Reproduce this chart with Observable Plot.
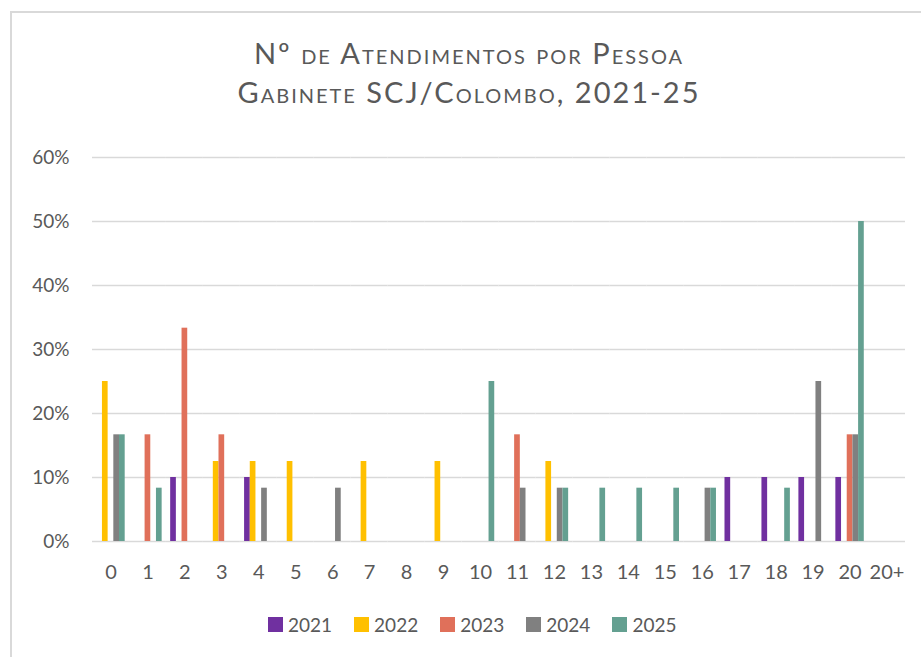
<!DOCTYPE html>
<html>
<head>
<meta charset="utf-8">
<script src="https://cdn.jsdelivr.net/npm/d3@7"></script>
<script src="https://cdn.jsdelivr.net/npm/@observablehq/plot@0.6"></script>
<style>
  html, body { margin: 0; padding: 0; background: #fff; width: 921px; height: 657px; overflow: hidden; }
  #frame { position: absolute; left: 10px; top: 11px; width: 1000px; height: 700px;
           border-left: 2px solid #d9d9d9; border-top: 2px solid #d9d9d9; }
  #title { position: absolute; left: 17px; width: 904px; top: 34px; text-align: center;
           font-family: Lato, sans-serif; font-variant: small-caps; font-size: 29px; line-height: 38.5px;
           letter-spacing: 2px; color: #595959; }
  #chart { position: absolute; left: 0; top: 0; }
  #legend { position: absolute; left: 268px; top: 608px; }
  #legend > div { font-family: Lato, sans-serif !important; font-size: 19px !important; color: #595959; margin: 0; }
  #legend svg { margin-right: 5px !important; }
  #legend span { margin-right: 22px !important; }
</style>
</head>
<body>
<div id="frame"></div>
<div id="title">Nº de Atendimentos por Pessoa<br>Gabinete SCJ/Colombo, 2021-25</div>
<div id="chart"></div>
<div id="legend"></div>
<script>
const categories = ["0","1","2","3","4","5","6","7","8","9","10","11","12","13","14","15","16","17","18","19","20","20+"];
const years = ["2021","2022","2023","2024","2025"];
const colors = ["#7030A0","#FFC000","#E0705A","#808080","#64A091"];
const yTicks = [0, 0.1, 0.2, 0.3, 0.4, 0.5, 0.6];

//                 0      1      2      3      4      5      6      7    8    9      10   11     12     13     14     15     16     17   18     19    20     20+
const v2021 = [0,     0,     0.1,   0,     0.1,   0,     0,     0,   0,   0,     0,   0,     0,     0,     0,     0,     0,     0.1, 0.1,   0.1,  0.1,   0];
const v2022 = [0.25,  0,     0,     0.125, 0.125, 0.125, 0,     0.125, 0, 0.125, 0,   0,     0.125, 0,     0,     0,     0,     0,   0,     0,    0,     0];
const v2023 = [0,     0.1667,0.3333,0.1667,0,     0,     0,     0,   0,   0,     0,   0.1667,0,     0,     0,     0,     0,     0,   0,     0,    0.1667,0];
const v2024 = [0.1667,0,     0,     0,     0.0833,0,     0.0833,0,   0,   0,     0,   0.0833,0.0833,0,     0,     0,     0.0833,0,   0,     0.25, 0.1667,0];
const v2025 = [0.1667,0.0833,0,     0,     0,     0,     0,     0,   0,   0,     0.25,0,     0.0833,0.0833,0.0833,0.0833,0.0833,0,   0.0833,0,    0.5,   0];

const series = [v2021, v2022, v2023, v2024, v2025];
const data = [];
categories.forEach((c, i) => years.forEach((y, j) => data.push({cat: c, year: y, value: series[j][i]})));

const font = "Lato, sans-serif";
const chart = Plot.plot({
  width: 921,
  height: 600,
  marginTop: 157,
  marginBottom: 59,
  marginLeft: 92,
  marginRight: 16,
  style: {fontFamily: font, color: "#595959", background: "transparent"},
  fx: {domain: categories, padding: 0, round: false, label: null},
  x: {domain: years, paddingInner: 0, paddingOuter: 0.75, round: false, axis: null},
  y: {domain: [0, 0.6], label: null},
  color: {domain: years, range: colors},
  marks: [
    Plot.gridY(yTicks, {stroke: "#d9d9d9", strokeOpacity: 1, strokeWidth: 1.5}),
    Plot.barY(data, {fx: "cat", x: "year", y: "value", fill: "year"}),
    Plot.axisY({ticks: yTicks, tickFormat: d => Math.round(d * 100) + "%", tickSize: 0, tickPadding: 23,
                fontSize: 19, fill: "#595959", label: null, facetAnchor: "left"}),
    Plot.axisFx({anchor: "bottom", tickSize: 0, tickPadding: 23, fontSize: 20, fill: "#595959", label: null})
  ]
});
document.getElementById("chart").appendChild(chart);

const legend = Plot.legend({
  color: {domain: years, range: colors},
  legend: "swatches",
  swatchSize: 15
});
document.getElementById("legend").appendChild(legend);
</script>
</body>
</html>
